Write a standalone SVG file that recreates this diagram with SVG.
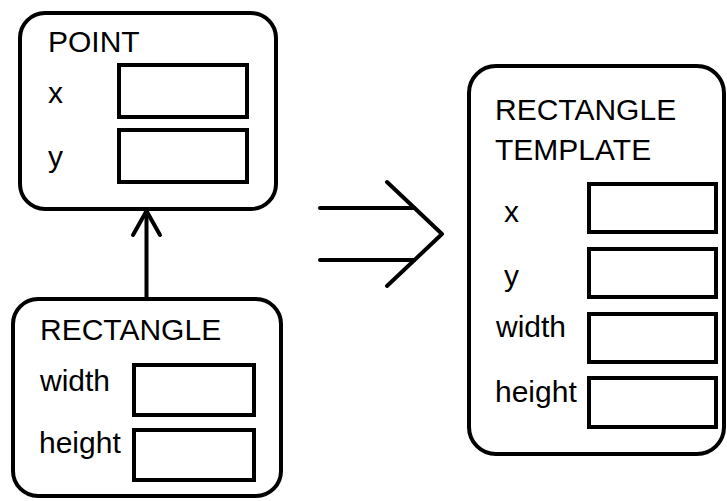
<svg xmlns="http://www.w3.org/2000/svg" width="727" height="501" viewBox="0 0 727 501">
  <style>
    .box { fill: #ffffff; stroke: #000000; stroke-width: 4; }
    .field { fill: #ffffff; stroke: #000000; stroke-width: 4; }
    .lbl { font-family: "Liberation Sans", Arial, sans-serif; font-size: 30px; fill: #000000; }
    .line { fill: none; stroke: #000000; stroke-width: 4; stroke-linecap: round; stroke-linejoin: round; }
  </style>
  <rect width="727" height="501" fill="#ffffff"/>

  <g id="connectors">
    <!-- inheritance: RECTANGLE -> POINT -->
    <line class="line" x1="146.5" y1="298" x2="146.5" y2="211" stroke-linecap="butt"/>
    <polyline class="line" points="133,235 146.5,211 160,235" stroke-width="3.5"/>
    <!-- expansion arrow -->
    <line class="line" x1="320" y1="208" x2="414" y2="208"/>
    <line class="line" x1="320" y1="260" x2="414" y2="260"/>
    <polyline class="line" points="387,182 442,234 387,286"/>
  </g>

  <g id="point">
    <rect class="box" x="20" y="13" width="256" height="196" rx="25"/>
    <text class="lbl" x="48" y="52">POINT</text>
    <text class="lbl" x="48" y="103">x</text>
    <rect class="field" x="119" y="65" width="128" height="52"/>
    <text class="lbl" x="48" y="167">y</text>
    <rect class="field" x="119" y="130" width="128" height="52"/>
  </g>

  <g id="rectangle">
    <rect class="box" x="13" y="299" width="268" height="197" rx="25"/>
    <text class="lbl" x="40" y="340">RECTANGLE</text>
    <text class="lbl" x="40" y="391">width</text>
    <rect class="field" x="134" y="365" width="120" height="50"/>
    <text class="lbl" x="39" y="453">height</text>
    <rect class="field" x="134" y="430" width="120" height="50"/>
  </g>

  <g id="rectangle-template">
    <rect class="box" x="469" y="66" width="255" height="388" rx="27"/>
    <text class="lbl" x="495" y="120">RECTANGLE</text>
    <text class="lbl" x="495" y="160">TEMPLATE</text>
    <text class="lbl" x="504" y="222">x</text>
    <rect class="field" x="589" y="184" width="127" height="48"/>
    <text class="lbl" x="504" y="286">y</text>
    <rect class="field" x="589" y="249" width="127" height="48"/>
    <text class="lbl" x="496" y="337">width</text>
    <rect class="field" x="589" y="314" width="127" height="48"/>
    <text class="lbl" x="495" y="402">height</text>
    <rect class="field" x="589" y="378" width="127" height="49"/>
  </g>
</svg>
